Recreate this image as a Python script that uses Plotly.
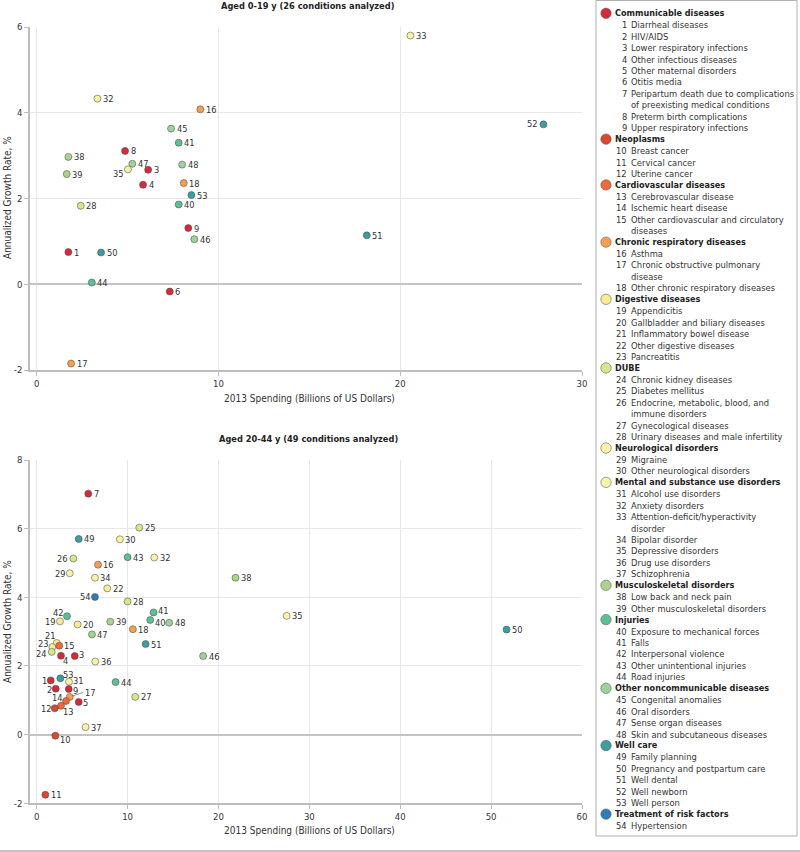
import plotly.graph_objects as go

# ---------------- data ----------------
categories = ["Communicable diseases", "Neoplasms", "Cardiovascular diseases",
              "Chronic respiratory diseases", "Digestive diseases", "DUBE",
              "Neurological disorders", "Mental and substance use disorders",
              "Musculoskeletal disorders", "Injuries", "Other noncommunicable diseases",
              "Well care", "Treatment of risk factors"]
category_colors = ["#d42a3c", "#e0452e", "#ee6a36", "#f6a04f", "#faea92", "#d5e78a",
                   "#fbf3a3", "#f7f2a8", "#a8d58a", "#5dbf95", "#9dd29a", "#3a9ea3", "#2a7fb8"]
# number of conditions in each category (ids run 1..54 in order)
category_sizes = [9, 3, 3, 3, 5, 5, 2, 7, 2, 5, 4, 5, 1]

condition_names = [
    "Diarrheal diseases", "HIV/AIDS", "Lower respiratory infections",
    "Other infectious diseases", "Other maternal disorders", "Otitis media",
    "Peripartum death due to complications\nof preexisting medical conditions",
    "Preterm birth complications", "Upper respiratory infections",
    "Breast cancer", "Cervical cancer", "Uterine cancer",
    "Cerebrovascular disease", "Ischemic heart disease",
    "Other cardiovascular and circulatory\ndiseases",
    "Asthma", "Chronic obstructive pulmonary\ndisease", "Other chronic respiratory diseases",
    "Appendicitis", "Gallbladder and biliary diseases", "Inflammatory bowel disease",
    "Other digestive diseases", "Pancreatitis",
    "Chronic kidney diseases", "Diabetes mellitus",
    "Endocrine, metabolic, blood, and\nimmune disorders", "Gynecological diseases",
    "Urinary diseases and male infertility",
    "Migraine", "Other neurological disorders",
    "Alcohol use disorders", "Anxiety disorders",
    "Attention-deficit/hyperactivity\ndisorder", "Bipolar disorder",
    "Depressive disorders", "Drug use disorders", "Schizophrenia",
    "Low back and neck pain", "Other musculoskeletal disorders",
    "Exposure to mechanical forces", "Falls", "Interpersonal violence",
    "Other unintentional injuries", "Road injuries",
    "Congenital anomalies", "Oral disorders", "Sense organ diseases",
    "Skin and subcutaneous diseases",
    "Family planning", "Pregnancy and postpartum care", "Well dental",
    "Well newborn", "Well person",
    "Hypertension",
]

# Aged 0-19 y
young_ids = [32, 16, 45, 41, 8, 38, 47, 48, 35, 3, 39, 4, 18, 53, 28, 40, 9, 46, 1, 50,
             44, 6, 17, 33, 52, 51]
young_spending = [3.34, 9.0, 7.39, 7.81, 4.86, 1.74, 5.26, 8.0, 5.02, 6.13, 1.65, 5.85,
                  8.09, 8.51, 2.42, 7.81, 8.34, 8.67, 1.74, 3.54, 3.03, 7.32, 1.89,
                  20.56, 27.88, 18.16]
young_growth = [4.33, 4.08, 3.63, 3.30, 3.11, 2.97, 2.81, 2.79, 2.68, 2.67, 2.57, 2.32,
                2.36, 2.08, 1.83, 1.86, 1.31, 1.05, 0.75, 0.74, 0.04, -0.17, -1.85,
                5.80, 3.73, 1.14]

# Aged 20-44 y
adult_ids = [7, 25, 49, 30, 26, 43, 32, 16, 29, 34, 38, 22, 54, 28, 41, 42, 35, 50, 19,
             20, 39, 40, 48, 18, 47, 51, 21, 23, 15, 24, 4, 3, 46, 36, 53, 1, 31, 44, 2,
             9, 17, 27, 14, 5, 13, 12, 37, 10, 11]
adult_spending = [5.67, 11.28, 4.62, 9.15, 4.03, 10.0, 12.93, 6.74, 3.63, 6.41, 21.87,
                  7.76, 6.41, 10.0, 12.86, 3.33, 27.5, 51.7, 2.56, 4.5, 8.09, 12.49,
                  14.57, 10.58, 6.08, 11.98, 2.2, 1.71, 2.48, 1.65, 2.67, 4.18, 18.31,
                  6.44, 2.6, 1.54, 3.55, 8.68, 2.09, 3.52, 3.63, 10.84, 3.22, 4.62,
                  2.67, 1.98, 5.38, 2.05, 0.95]
adult_growth = [7.02, 6.03, 5.70, 5.69, 5.13, 5.17, 5.16, 4.95, 4.70, 4.57, 4.57, 4.26,
                4.01, 3.88, 3.56, 3.45, 3.46, 3.06, 3.30, 3.21, 3.29, 3.34, 3.26, 3.07,
                2.92, 2.64, 2.67, 2.55, 2.59, 2.41, 2.30, 2.29, 2.29, 2.13, 1.64, 1.58,
                1.54, 1.53, 1.34, 1.33, 1.10, 1.10, 0.98, 0.95, 0.84, 0.77, 0.22, -0.03,
                -1.75]

young_xticks = [0, 10, 20, 30]
young_yticks = [-2, 0, 2, 4, 6]
adult_xticks = [0, 10, 20, 30, 40, 50, 60]
adult_yticks = [-2, 0, 2, 4, 6, 8]

titles = ["Aged 0-19 y (26 conditions analyzed)", "Aged 20-44 y (49 conditions analyzed)"]
x_title = "2013 Spending (Billions of US Dollars)"
y_title = "Annualized Growth Rate, %"

# ---------------- label placement (pixel offsets of label centre from point) ----------------
young_label_offsets = {35: (-9.7, 3.7), 52: (-10.7, -1)}
adult_label_offsets = {26: (-11.3, 0), 29: (-9.7, 0), 54: (-9.7, 0), 19: (-9.3, 0),
                       42: (-8.7, -4), 21: (-6.7, -7.7), 23: (-9, -3.3), 24: (-10, 1.6),
                       1: (-6.7, 0), 2: (-6.7, 0.6), 12: (-8.5, 0.7), 14: (-8.2, -3.6),
                       13: (7.3, 5.3), 4: (4.7, 5), 53: (8, -3.8), 31: (9.3, -1.6),
                       9: (6.7, 1.2), 5: (6.6, 0.8), 10: (9.7, 3.6), 15: (10.7, 0),
                       3: (6.3, -1.7), 40: (10, 3), 41: (10, -1.5)}
adult_leaders = {17: (17.6, -4.5)}

# ---------------- helpers ----------------
W, H = 800, 852
FONT = "DejaVu Sans Condensed, Liberation Sans Narrow, Arial Narrow, sans-serif"
TXT = "#333333"
LABEL_FONT = dict(size=9.2, color=TXT, family=FONT)

cat_of = {}
cid = 1
for ci, n in enumerate(category_sizes):
    for _ in range(n):
        cat_of[cid] = ci
        cid += 1


def px(x):
    return x / W


def py(y):
    return 1 - y / H


fig = go.Figure()

panels = [
    dict(ids=young_ids, xs=young_spending, ys=young_growth, offs=young_label_offsets,
         leaders={}, xa="x", ya="y"),
    dict(ids=adult_ids, xs=adult_spending, ys=adult_growth, offs=adult_label_offsets,
         leaders=adult_leaders, xa="x2", ya="y2"),
]

annotations = []
for p in panels:
    colors = [category_colors[cat_of[i]] for i in p["ids"]]
    fig.add_trace(go.Scatter(
        x=p["xs"], y=p["ys"], mode="markers",
        marker=dict(size=7, color=colors, line=dict(color="rgba(70,70,70,0.75)", width=0.7)),
        xaxis=p["xa"], yaxis=p["ya"], showlegend=False, cliponaxis=False,
        hovertext=[str(i) for i in p["ids"]], hoverinfo="text",
    ))
    for i, x, y in zip(p["ids"], p["xs"], p["ys"]):
        if i in p["leaders"]:
            dx, dy = p["leaders"][i]
            annotations.append(dict(x=x, y=y, xref=p["xa"], yref=p["ya"], text=str(i),
                                    showarrow=True, arrowhead=0, arrowwidth=0.8,
                                    arrowcolor="#777", ax=dx - 4, ay=dy, standoff=3,
                                    xanchor="left", yanchor="middle", font=LABEL_FONT))
        elif i in p["offs"]:
            dx, dy = p["offs"][i]
            annotations.append(dict(x=x, y=y, xref=p["xa"], yref=p["ya"], text=str(i),
                                    showarrow=False, xanchor="center", yanchor="middle",
                                    xshift=dx, yshift=-dy, font=LABEL_FONT))
        else:
            annotations.append(dict(x=x, y=y, xref=p["xa"], yref=p["ya"], text=str(i),
                                    showarrow=False, xanchor="left", yanchor="middle",
                                    xshift=3.5, yshift=0, font=LABEL_FONT))

axis_common = dict(showline=True, linecolor="#bdbdbd", linewidth=1.5, ticks="outside",
                   ticklen=4, tickcolor="#bdbdbd", tickfont=dict(size=9.5, color=TXT, family=FONT),
                   showgrid=True, gridcolor="#e8e8e8", gridwidth=1, automargin=False,
                   tickmode="array")

fig.update_layout(
    xaxis=dict(domain=[px(30), px(582)], range=[-0.37, 30], tickvals=young_xticks,
               ticktext=[str(v) for v in young_xticks],
               anchor="y", zeroline=False, **axis_common),
    yaxis=dict(domain=[py(370), py(27)], range=[-2, 6], tickvals=young_yticks,
               ticktext=[str(v) for v in young_yticks],
               anchor="x", zeroline=True, zerolinecolor="#c4c4c4", zerolinewidth=2, **axis_common),
    xaxis2=dict(domain=[px(30), px(582)], range=[-0.74, 60], tickvals=adult_xticks,
                ticktext=[str(v) for v in adult_xticks],
                anchor="y2", zeroline=False, **axis_common),
    yaxis2=dict(domain=[py(803.3), py(460)], range=[-2, 8], tickvals=adult_yticks,
                ticktext=[str(v) for v in adult_yticks],
                anchor="x2", zeroline=True, zerolinecolor="#c4c4c4", zerolinewidth=2, **axis_common),
)

# panel titles and axis titles
for t, ty, xty, yty in zip(titles, [6, 438], [398, 830], [198, 622]):
    annotations.append(dict(x=px(308), y=py(ty), xref="paper", yref="paper", text="<b>" + t + "</b>",
                            showarrow=False, xanchor="center", yanchor="middle",
                            font=dict(size=9.2, color="#222", family=FONT)))
    annotations.append(dict(x=px(309), y=py(xty), xref="paper", yref="paper", text=x_title,
                            showarrow=False, xanchor="center", yanchor="middle",
                            font=dict(size=10, color=TXT, family=FONT)))
    annotations.append(dict(x=px(7), y=py(yty), xref="paper", yref="paper", text=y_title,
                            showarrow=False, textangle=-90, xanchor="center", yanchor="middle",
                            font=dict(size=10, color=TXT, family=FONT)))

# ---------------- custom legend ----------------
shapes = [
    dict(type="rect", xref="paper", yref="paper", x0=px(596), x1=px(797), y0=py(836), y1=py(0.5),
         line=dict(color="#b0b0b0", width=1), fillcolor="rgba(0,0,0,0)"),
    dict(type="line", xref="paper", yref="paper", x0=0, x1=1, y0=py(851), y1=py(851),
         line=dict(color="#b0b0b0", width=1.5)),
]
row_h = 11.44
row_y = 13.3
cid = 1
for ci, cat in enumerate(categories):
    r = 5.2
    shapes.append(dict(type="circle", xref="paper", yref="paper",
                       x0=px(606 - r), x1=px(606 + r), y0=py(row_y + r), y1=py(row_y - r),
                       fillcolor=category_colors[ci], line=dict(color="rgba(90,90,90,0.7)", width=0.8)))
    annotations.append(dict(x=px(613), y=py(row_y), xref="paper", yref="paper",
                            text="<b>" + cat + "</b>", showarrow=False, xanchor="left",
                            yanchor="middle", font=dict(size=9, color="#222", family=FONT)))
    row_y += row_h
    for _ in range(category_sizes[ci]):
        annotations.append(dict(x=px(629), y=py(row_y), xref="paper", yref="paper",
                                text=str(cid), showarrow=False, xanchor="right",
                                yanchor="middle", font=dict(size=9.3, color=TXT, family=FONT)))
        for line in condition_names[cid - 1].split("\n"):
            annotations.append(dict(x=px(628.5), y=py(row_y), xref="paper", yref="paper",
                                    text=line, showarrow=False, xanchor="left",
                                    yanchor="middle", font=dict(size=9.3, color=TXT, family=FONT)))
            row_y += row_h
        cid += 1

fig.update_layout(
    width=W, height=H, margin=dict(l=0, r=0, t=0, b=0, autoexpand=False),
    paper_bgcolor="white", plot_bgcolor="white",
    font=dict(family=FONT, color=TXT),
    annotations=annotations, shapes=shapes, showlegend=False,
)

fig.write_html("out.html", config={"displayModeBar": False},
               post_script="document.body.style.margin='0px';"
                           "document.body.style.padding='0px';"
                           "document.documentElement.style.overflow='hidden';")
